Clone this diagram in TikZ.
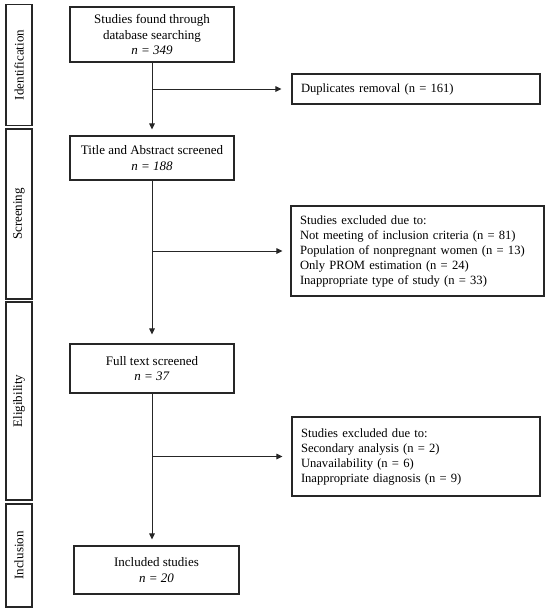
\documentclass[tikz,border=0pt]{standalone}
\usepackage{fontspec}
\setmainfont{Liberation Serif}
\usetikzlibrary{arrows.meta}
\begin{document}
\begin{tikzpicture}[x=1pt,y=-1pt,
  every node/.style={font=\fontsize{13}{15.3}\selectfont, inner sep=0pt},
  cbox/.style={draw=black!85, line width=1.1pt, align=center},
  lbox/.style={draw=black!85, line width=1.1pt, align=left, anchor=center, font=\fontsize{12.6}{15}\selectfont},
  sidebar/.style={draw=black!85, line width=1.1pt, rotate=90, minimum height=26pt, align=center},
  arr/.style={draw=black!85, line width=1pt, -{Triangle[length=6pt,width=5.5pt]}},
  ln/.style={draw=black!85, line width=1pt}]
\useasboundingbox (0,0) rectangle (550,613);
\fill[white] (0,0) rectangle (550,613);
% side bars
\node[sidebar, minimum width=121pt] (sid) at (19,65) {Identification};
\node[sidebar, minimum width=170pt] (ssc) at (19,214) {Screening};
\node[sidebar, minimum width=198pt] (sel) at (19,401) {Eligibility};
\node[sidebar, minimum width=103pt] (sin) at (19,555.5) {Inclusion};
% main boxes
\node[cbox, minimum width=164pt, minimum height=55pt] (b1) at (152,34.5)
  {Studies found through\\database searching\\\textit{n = 349}};
\node[cbox, minimum width=164pt, minimum height=44pt] (b2) at (152,158)
  {Title and Abstract screened\\\textit{n = 188}};
\node[cbox, minimum width=164pt, minimum height=49pt] (b3) at (152,368.5)
  {Full text screened\\\textit{n = 37}};
\node[cbox, minimum width=165pt, minimum height=48pt] (b4) at (156.5,570)
  {Included studies\\\textit{n = 20}};
% exclusion boxes
\node[lbox, minimum width=248pt, minimum height=30pt, text width=230pt] (dup) at (416,89)
  {Duplicates removal (n = 161)};
\node[lbox, minimum width=253pt, minimum height=90pt, text width=235pt] (ex1) at (417.5,251)
  {Studies excluded due to:\\Not meeting of inclusion criteria (n = 81)\\Population of nonpregnant women (n = 13)\\Only PROM estimation (n = 24)\\Inappropriate type of study (n = 33)};
\node[lbox, minimum width=248pt, minimum height=79pt, text width=230pt] (ex2) at (416,456.5)
  {Studies excluded due to:\\Secondary analysis (n = 2)\\Unavailability (n = 6)\\Inappropriate diagnosis (n = 9)};
% connectors
\draw[arr, shorten >=6pt] (b1.south) -- (b2.north);
\draw[arr, shorten >=9pt] (b2.south) -- (b3.north);
\draw[arr, shorten >=6pt] (b3.south) -- (b3.south |- b4.north);
\draw[arr, shorten >=10pt] (b1.south |- dup.west) -- (dup.west);
\draw[arr, shorten >=8pt] (b2.south |- ex1.west) -- (ex1.west);
\draw[arr, shorten >=9pt] (b3.south |- ex2.west) -- (ex2.west);
\end{tikzpicture}
\end{document}
